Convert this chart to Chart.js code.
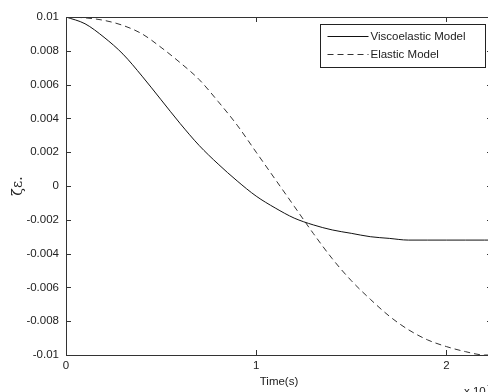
<!DOCTYPE html>
<html>
<head>
<meta charset="utf-8">
<script src="https://cdn.jsdelivr.net/npm/chart.js@4/dist/chart.umd.min.js"></script>
<style>
  html, body { margin: 0; padding: 0; background: #fff; overflow: hidden; }
  #wrap { width: 488px; height: 392px; overflow: hidden; }
</style>
</head>
<body>
<div id="wrap"><canvas id="strainChart" width="500" height="392"></canvas></div>
<script>
// time samples (x 10^-n s) and the two strain responses
const times = [0, 0.1, 0.2, 0.3, 0.4, 0.5, 0.6, 0.7, 0.8, 0.9, 1.0, 1.1, 1.2, 1.3, 1.4, 1.5, 1.6, 1.7, 1.8, 1.9, 2.0, 2.1, 2.2, 2.3];
const viscoelastic = [0.01, 0.0096, 0.0088, 0.0078, 0.0065, 0.0051, 0.0037, 0.0024, 0.0013, 0.0003, -0.0006, -0.0013, -0.0019, -0.0023, -0.0026, -0.0028, -0.0030, -0.0031, -0.0032, -0.0032, -0.0032, -0.0032, -0.0032, -0.0032];
const elastic = [0.01, 0.00995, 0.0098, 0.0095, 0.0090, 0.0082, 0.0073, 0.0063, 0.0050, 0.0036, 0.0020, 0.0004, -0.0012, -0.0028, -0.0043, -0.0056, -0.0067, -0.0077, -0.0085, -0.0091, -0.0095, -0.0098, -0.0100, -0.0100];
const seriesNames = ['Viscoelastic Model', 'Elastic Model'];
const xTicks = [0, 1, 2];
const yTicks = [0.01, 0.008, 0.006, 0.004, 0.002, 0, -0.002, -0.004, -0.006, -0.008, -0.01];
const yTickLabels = ['0.01', '0.008', '0.006', '0.004', '0.002', '0', '-0.002', '-0.004', '-0.006', '-0.008', '-0.01'];

const FONT = '"Liberation Sans", Arial, sans-serif';
const INK = '#222';

const toPoints = ys => times.map((t, i) => ({ x: t, y: ys[i] }));

// box, inward ticks, legend and the axis multiplier
const frame = {
    id: 'frame',
    afterDatasetsDraw(chart) {
        const { ctx, chartArea: a, scales: { x, y } } = chart;
        ctx.save();
        ctx.strokeStyle = '#333';
        ctx.lineWidth = 1;
        ctx.setLineDash([]);
        ctx.strokeRect(a.left + 0.5, a.top + 0.5, a.right - a.left, a.bottom - a.top);
        ctx.beginPath();
        xTicks.forEach(t => {
            const px = Math.round(x.getPixelForValue(t)) + 0.5;
            ctx.moveTo(px, a.bottom); ctx.lineTo(px, a.bottom - 5);
            ctx.moveTo(px, a.top); ctx.lineTo(px, a.top + 5);
        });
        yTicks.forEach(v => {
            const py = Math.round(y.getPixelForValue(v)) + 0.5;
            ctx.moveTo(a.left, py); ctx.lineTo(a.left + 5, py);
            ctx.moveTo(a.right, py); ctx.lineTo(a.right - 5, py);
        });
        ctx.stroke();

        // legend box in the top right corner
        const bw = 165, bh = 43;
        const bx = Math.round(a.right - 7 - bw) + 0.5, by = Math.round(a.top + 7) + 0.5;
        ctx.fillStyle = '#fff';
        ctx.fillRect(bx, by, bw, bh);
        ctx.strokeStyle = '#222';
        ctx.strokeRect(bx, by, bw, bh);
        ctx.font = '11.5px ' + FONT;
        ctx.textBaseline = 'middle';
        ctx.fillStyle = INK;
        chart.data.datasets.forEach((ds, i) => {
            const ry = Math.round(by + 11 + i * 18) + 0.5;
            ctx.strokeStyle = ds.borderColor;
            ctx.setLineDash(ds.borderDash || []);
            ctx.beginPath();
            ctx.moveTo(bx + 7, ry);
            ctx.lineTo(bx + 48, ry);
            ctx.stroke();
            ctx.fillText(ds.label, bx + 50, ry);
        });

        // exponent label under the right end of the time axis
        ctx.textBaseline = 'top';
        ctx.fillText('x 10', a.left + 398, 386);
        ctx.font = '9px ' + FONT;
        ctx.fillText('-3', a.left + 421, 381);
        ctx.restore();
    }
};

new Chart(document.getElementById('strainChart'), {
    type: 'line',
    data: {
        datasets: [
            {
                label: seriesNames[0],
                data: toPoints(viscoelastic),
                borderColor: '#111',
                borderWidth: 1,
                pointRadius: 0,
                cubicInterpolationMode: 'monotone'
            },
            {
                label: seriesNames[1],
                data: toPoints(elastic),
                borderColor: '#333',
                borderWidth: 1,
                borderDash: [6, 4],
                pointRadius: 0,
                cubicInterpolationMode: 'monotone'
            }
        ]
    },
    options: {
        responsive: false,
        animation: false,
        layout: { padding: { top: 17, right: 8, left: 0, bottom: 0 } },
        plugins: { legend: { display: false }, tooltip: { enabled: false } },
        scales: {
            x: {
                type: 'linear',
                min: 0,
                max: 2.24,
                afterFit: s => { s.height = 37; },
                afterBuildTicks: s => { s.ticks = xTicks.map(v => ({ value: v })); },
                grid: { display: false, drawTicks: false },
                border: { display: false },
                ticks: { padding: 4, color: INK, font: { family: FONT, size: 11.5 }, maxRotation: 0 },
                title: { display: true, text: 'Time(s)', color: INK, font: { family: FONT, size: 11.5 }, padding: { top: 0, bottom: 3 } }
            },
            y: {
                min: -0.01,
                max: 0.01,
                afterFit: s => { s.width = 66; },
                afterBuildTicks: s => { s.ticks = yTicks.map(v => ({ value: v })); },
                grid: { display: false, drawTicks: false },
                border: { display: false },
                ticks: {
                    padding: 7,
                    color: INK,
                    font: { family: FONT, size: 11.5 },
                    callback: (v, i) => yTickLabels[i]
                },
                title: { display: true, text: 'ζε.', color: INK, font: { family: '"DejaVu Serif", serif', size: 14 }, padding: { top: 10, bottom: 0 } }
            }
        }
    },
    plugins: [frame]
});
</script>
</body>
</html>
